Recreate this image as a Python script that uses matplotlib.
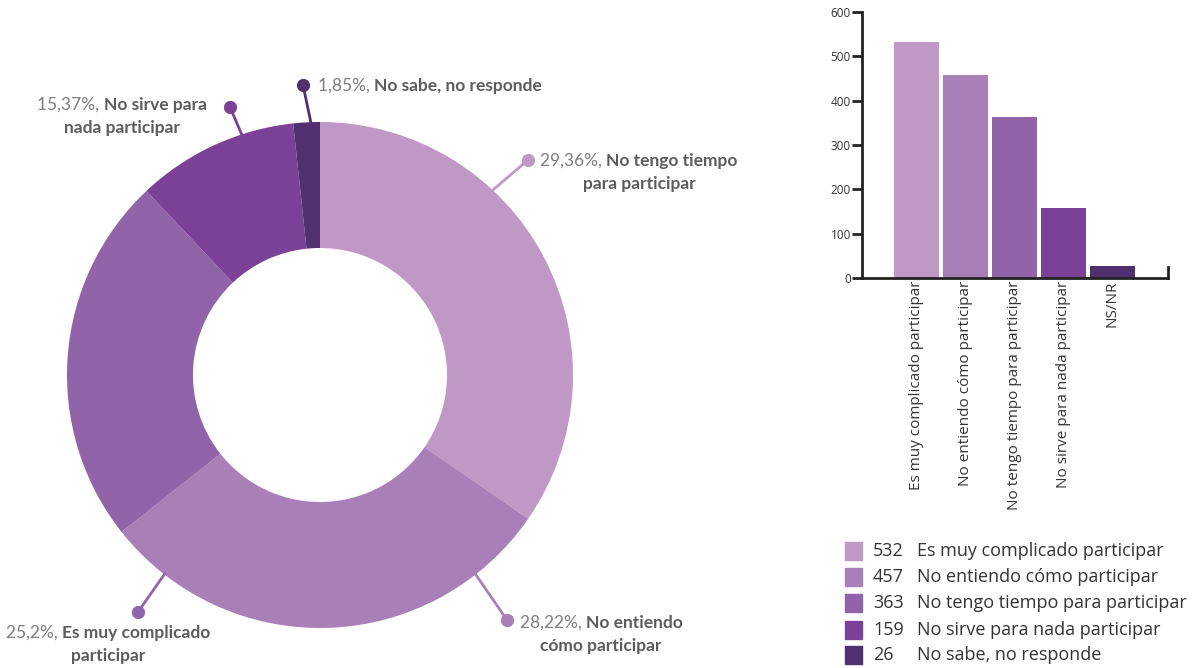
import numpy as np
import matplotlib
matplotlib.use("Agg")
import matplotlib.pyplot as plt
from matplotlib.patches import Rectangle

# data
categories = ["Es muy complicado participar", "No entiendo cómo participar",
              "No tengo tiempo para participar", "No sirve para nada participar",
              "No sabe, no responde"]
bar_labels = ["Es muy complicado participar", "No entiendo cómo participar",
              "No tengo tiempo para participar", "No sirve para nada participar",
              "NS/NR"]
values = [532, 457, 363, 159, 26]
colors = ["#C098C6", "#A880B7", "#9163A8", "#7B4197", "#51306F"]

# donut labels as printed in the source (percent, bold text lines)
pct_text = ["29,36%", "28,22%", "25,2%", "15,37%", "1,85%"]
name_line1 = ["No tengo tiempo", "No entiendo", "Es muy complicado", "No sirve para", "No sabe, no responde"]
name_line2 = ["para participar", "cómo participar", "participar", "nada participar", ""]

W, H = 1193, 668
fig = plt.figure(figsize=(W / 100, H / 100), dpi=100)

# ---- donut (axes in pixel units) ----
ax = fig.add_axes([0, 0, 640 / W, 1])
ax.axis("off")
cx, cy, R = 320, H - 375, 253
ax.pie(values, colors=colors, startangle=90, counterclock=False,
       center=(cx, cy), radius=R, wedgeprops=dict(width=126, linewidth=0))
ax.set_xlim(0, 640)
ax.set_ylim(0, H)
ax.set_aspect("equal")

# leader line anchor angle on ring, dot position, label center (image coords)
anchor_ang = [47, -52, -128, 108, 92]
dots = [(528, 160), (507, 620), (138, 612), (230, 107), (303, 85)]
lab_pos = [(639, 161), (601, 623), (108, 633), (122, 105), (0, 86)]

renderer = fig.canvas.get_renderer()
pct_col, name_col = "#7d7d7d", "#5c5c5c"
fs = 12.5
for i in range(len(values)):
    a = np.deg2rad(anchor_ang[i])
    x0, y0 = cx + (R - 2) * np.cos(a), cy + (R - 2) * np.sin(a)
    dx, dy = dots[i][0], H - dots[i][1]
    ax.plot([x0, dx], [y0, dy], color=colors[i], lw=2, solid_capstyle="butt")
    ax.plot(dx, dy, "o", color=colors[i], ms=8.5)

    lx, ly = lab_pos[i][0], H - lab_pos[i][1]
    t1 = ax.text(0, ly, pct_text[i] + ", ", fontsize=fs, color=pct_col,
                 family="Lato", va="center", ha="left")
    t2 = ax.text(0, ly, name_line1[i], fontsize=fs, color=name_col,
                 family="Lato", weight="bold", va="center", ha="left")
    w1 = t1.get_window_extent(renderer).width
    w2 = t2.get_window_extent(renderer).width
    if i == 4:
        start = 318
    else:
        start = lx - (w1 + w2) / 2
    t1.set_x(start)
    t2.set_x(start + w1)
    if name_line2[i]:
        ax.text(lx, ly - 23, name_line2[i], fontsize=fs, color=name_col,
                family="Lato", weight="bold", va="center", ha="center")

# ---- bar chart ----
bx = fig.add_axes([862 / W, (H - 278) / H, (1168 - 862) / W, (278 - 12) / H])
x = np.arange(len(values))
bx.bar(x, values, width=0.92, color=colors)
bx.set_xlim(-1.11, 5.14)
bx.set_ylim(0, 600)
bx.set_yticks(range(0, 601, 100))
bx.set_xticks(x)
bx.set_xticklabels(bar_labels, rotation=90, fontsize=11, family="Open Sans", color="#333333")
bx.tick_params(axis="x", length=0, pad=2)
bx.tick_params(axis="y", direction="out", length=7, width=2, labelsize=8.5,
               labelcolor="#333333", color="#222222", pad=1)
for lab in bx.get_yticklabels():
    lab.set_family("Open Sans")
bx.spines["top"].set_visible(False)
for side in ["left", "bottom", "right"]:
    bx.spines[side].set_linewidth(2)
    bx.spines[side].set_color("#222222")
bx.spines["right"].set_bounds(0, 25)

# ---- legend ----
leg_y = [551, 577, 603, 630, 655]
for i in range(len(values)):
    yc = 1 - leg_y[i] / H
    fig.patches.append(Rectangle((845 / W, yc - 9 / H), 17 / W, 18 / H,
                                 transform=fig.transFigure, color=colors[i]))
    fig.text(873 / W, yc, str(values[i]), fontsize=13, family="Open Sans",
             color="#333333", va="center", ha="left")
    fig.text(917 / W, yc, categories[i], fontsize=13, family="Open Sans",
             color="#333333", va="center", ha="left")

fig.savefig("out.png", dpi=100, facecolor="white")
